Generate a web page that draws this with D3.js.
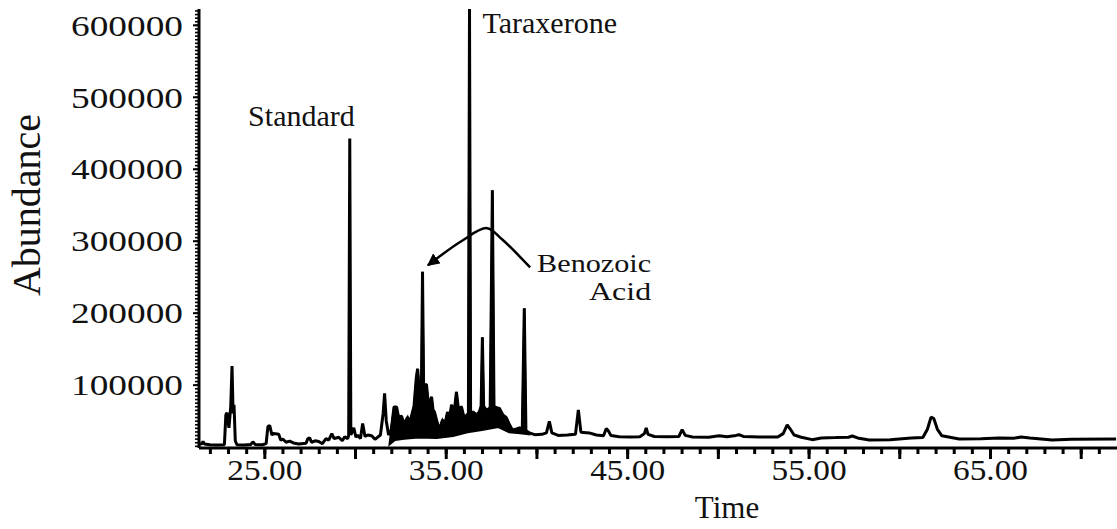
<!DOCTYPE html>
<html>
<head>
<meta charset="utf-8">
<script src="https://cdn.jsdelivr.net/npm/d3@7"></script>
<style>
    body { margin: 0; background: #fff; }
    text { font-family: "Liberation Serif", "Times New Roman", serif; fill: #111; }
</style>
</head>
<body>
<div id="chart"></div>
<script>

// Chromatogram: [time, abundance]
var trace = [
    [21.40, 17000], [21.55, 18000], [21.62, 21000], [21.70, 17500], [22.00, 16500], [22.40, 16200], [22.80, 16500],
    [22.88, 58000], [22.94, 61000], [23.05, 40000], [23.15, 70000], [23.22, 126000], [23.28, 60000], [23.33, 72000],
    [23.40, 22000], [23.49, 16500], [23.90, 16200], [24.25, 17000], [24.37, 20500], [24.50, 17000], [24.90, 16500],
    [25.10, 18000], [25.20, 42000], [25.30, 43000], [25.42, 30000], [25.50, 32000], [25.80, 31000], [25.90, 23000],
    [26.02, 24500], [26.20, 20000], [26.40, 21500], [26.60, 19000], [26.90, 17500], [27.30, 18500], [27.40, 25000],
    [27.50, 26000], [27.60, 20000], [27.80, 22000], [28.00, 21000], [28.20, 18000], [28.40, 25000], [28.55, 23000],
    [28.72, 32000], [28.85, 25000], [29.10, 27000], [29.30, 22000], [29.43, 27500], [29.60, 25000],
    [29.65, 30000], [29.71, 442000], [29.77, 30000],
    [29.93, 40000], [30.05, 27000], [30.15, 30000], [30.30, 25000], [30.42, 46000], [30.55, 28000], [30.70, 30000],
    [30.92, 29000], [31.10, 24000], [31.40, 30000], [31.55, 60000], [31.63, 88000], [31.72, 50000], [31.85, 30000],
    [32.00, 38000], [32.15, 69000], [32.29, 69000], [32.40, 55000], [32.57, 56000], [32.70, 45000], [32.90, 55000],
    [33.00, 45000], [33.12, 57000], [33.25, 70000], [33.38, 110000], [33.45, 122000], [33.55, 90000],
    [33.66, 95000], [33.72, 257000], [33.78, 100000],
    [33.94, 100000], [34.05, 70000], [34.22, 83000], [34.30, 65000], [34.38, 62000], [34.50, 50000], [34.66, 37000],
    [34.82, 51000], [34.95, 45000], [35.10, 62000], [35.20, 52000], [35.32, 72000], [35.45, 58000], [35.59, 90000],
    [35.70, 66000], [35.87, 69000], [36.00, 55000], [36.14, 57000], [36.25, 60000],
    [36.31, 622000], [36.37, 60000],
    [36.50, 62000], [36.69, 58000], [36.85, 62000], [36.95, 70000], [37.02, 166000], [37.09, 70000], [37.20, 66000],
    [37.30, 65000], [37.45, 68000], [37.57, 370000], [37.66, 70000], [37.80, 68000], [37.96, 67000], [38.15, 58000],
    [38.34, 54000], [38.50, 45000], [38.67, 37000], [38.85, 38000], [39.06, 40000], [39.22, 39000],
    [39.33, 206000], [39.42, 36000], [39.61, 33000],
    [39.90, 30500], [40.30, 31000], [40.55, 33000], [40.71, 49000], [40.85, 33000], [41.20, 29500], [41.70, 30000],
    [42.15, 31000], [42.31, 65000], [42.45, 34000], [42.91, 33000], [43.30, 30000], [43.70, 29000], [43.85, 39000],
    [43.96, 36000], [44.10, 29500], [44.56, 27500], [45.20, 27300], [45.70, 27500], [45.95, 32000], [46.05, 40000],
    [46.15, 31000], [46.50, 28000], [47.20, 27500], [47.85, 28000], [48.03, 37500], [48.20, 29500], [48.60, 27300],
    [49.50, 27000], [50.07, 29000], [50.50, 27500], [51.00, 29500], [51.17, 30500], [51.40, 28000], [52.30, 27300],
    [53.30, 27300], [53.60, 32000], [53.82, 44000], [54.00, 38000], [54.20, 30000], [54.60, 27000], [55.20, 23600],
    [55.70, 26000], [56.50, 26500], [57.20, 27000], [57.41, 28700], [57.70, 26000], [58.34, 23100], [59.50, 23500],
    [60.66, 25900], [61.30, 26500], [61.55, 38000], [61.75, 55000], [61.90, 53000], [62.10, 38000], [62.35, 29000],
    [63.30, 24500], [64.50, 24800], [65.50, 25900], [66.30, 25500], [66.72, 27300], [67.20, 26000], [68.43, 23000],
    [69.50, 24000], [71.95, 24500]
];

// lower edge of the dense unresolved band
var bandLow = [
    [31.90, 17000], [32.20, 23000], [32.70, 25000], [33.50, 26500], [34.50, 26000], [35.40, 28500],
    [36.20, 34000], [37.00, 37000], [37.90, 41000], [38.50, 34000], [39.10, 32500], [39.61, 31000]
];

var yLabels = [100000, 200000, 300000, 400000, 500000, 600000];
var xLabels = [25, 35, 45, 55, 65];
var xMidTicks = [30, 40, 50, 60, 70];

var notes = [
    {text: "Standard", t: 29.71, v: 442000, anchor: "end", dx: 5, dy: -13},
    {text: "Taraxerone", t: 36.31, v: 622000, anchor: "start", dx: 13, dy: 24}
];
var acidLabel = ["Benozoic", "Acid"];
var arrowPts = [[39.65, 263000], [38.10, 302000], [37.27, 317500], [35.90, 300000], [34.02, 266000]];

var margin = {top: 9, right: 0, bottom: 81, left: 199};
var width = 1117 - margin.left - margin.right,
    height = 529 - margin.top - margin.bottom;

var svg = d3.select("#chart").append("svg")
    .attr("width", 1117)
    .attr("height", 529);

var g = svg.append("g")
    .attr("transform", "translate(" + margin.left + "," + margin.top + ")");

var x = d3.scaleLinear().domain([21.4, 72]).range([0, width]);
var y = d3.scaleLinear().domain([12000, 622000]).range([height, 0]);

var line = d3.line()
    .x(function(d) { return x(d[0]); })
    .y(function(d) { return y(d[1]); });

// filled band: top of trace across the band, back along its lower edge
var band = trace.filter(function(d) { return d[0] >= 31.9 && d[0] <= 39.61; })
    .concat(bandLow.slice().reverse());

g.append("path")
    .attr("d", line(band) + "Z")
    .attr("fill", "#000")
    .attr("stroke", "#000")
    .attr("stroke-width", 2);

g.append("path")
    .datum(trace)
    .attr("d", line)
    .attr("fill", "none")
    .attr("stroke", "#000")
    .attr("stroke-width", 3)
    .attr("stroke-linejoin", "bevel");

// x axis
var xMinor = [];
for (var t = 22; t <= 71; t++) xMinor.push(t);

g.append("g")
    .attr("transform", "translate(0," + height + ")")
    .call(d3.axisBottom(x).tickValues(xMinor).tickSize(6).tickSizeOuter(0).tickFormat(""))
    .call(function(a) {
        a.select(".domain").attr("stroke-width", 3).attr("d", "M0,0H" + width);
        a.selectAll(".tick line").attr("stroke-width", 3);
    });

g.append("g")
    .attr("transform", "translate(0," + height + ")")
    .call(d3.axisBottom(x).tickValues(xLabels.concat(xMidTicks)).tickSize(11).tickSizeOuter(0)
        .tickFormat(function(d) { return xLabels.indexOf(d) >= 0 ? d.toFixed(2) : ""; }))
    .call(function(a) {
        a.select(".domain").remove();
        a.selectAll(".tick line").attr("stroke-width", 3);
        a.selectAll(".tick text")
            .attr("y", 32)
            .attr("dy", 0)
            .style("font-size", "30px")
            .attr("textLength", function(d) { return xLabels.indexOf(d) >= 0 ? 75 : null; })
            .attr("lengthAdjust", "spacingAndGlyphs")
            .attr("fill", "#111");
    });

// y axis
var yMinor = [];
for (var v = 15000; v <= 620000; v += 5000) yMinor.push(v);

g.append("g")
    .call(d3.axisLeft(y).tickValues(yMinor).tickSize(4).tickSizeOuter(0).tickFormat(""))
    .call(function(a) {
        a.select(".domain").attr("stroke-width", 3).attr("d", "M0," + height + "V0");
        a.selectAll(".tick line").attr("stroke-width", 1.6);
    });

g.append("g")
    .call(d3.axisLeft(y).tickValues(yLabels).tickSize(6).tickSizeOuter(0).tickFormat(d3.format("d")))
    .call(function(a) {
        a.select(".domain").remove();
        a.selectAll(".tick line").attr("stroke-width", 2);
        a.selectAll(".tick text")
            .attr("x", -16)
            .attr("dy", "0.34em")
            .style("font-size", "30px")
            .attr("textLength", 112)
            .attr("lengthAdjust", "spacingAndGlyphs")
            .attr("fill", "#111");
    });

// axis titles
svg.append("text")
    .text("Time")
    .attr("x", 727)
    .attr("y", 518)
    .attr("text-anchor", "middle")
    .style("font-size", "31px");

svg.append("text")
    .text("Abundance")
    .attr("transform", "translate(40,205) rotate(-90)")
    .attr("text-anchor", "middle")
    .style("font-size", "40px");

// peak labels
g.selectAll("text.note")
    .data(notes)
    .enter().append("text")
    .attr("class", "note")
    .attr("x", function(d) { return x(d.t) + d.dx; })
    .attr("y", function(d) { return y(d.v) + d.dy; })
    .attr("text-anchor", function(d) { return d.anchor; })
    .style("font-size", "30px")
    .text(function(d) { return d.text; });

g.selectAll("text.acid")
    .data(acidLabel)
    .enter().append("text")
    .attr("class", "acid")
    .attr("x", x(arrowPts[0][0]) + 121)
    .attr("y", function(d, i) { return y(arrowPts[0][1]) + 5 + i * 28; })
    .attr("text-anchor", "end")
    .style("font-size", "26px")
    .attr("textLength", function(d, i) { return i === 0 ? 114 : 62; })
    .attr("lengthAdjust", "spacingAndGlyphs")
    .text(function(d) { return d; });

svg.append("defs").append("marker")
    .attr("id", "head")
    .attr("viewBox", "0 0 10 10")
    .attr("refX", 9)
    .attr("refY", 5)
    .attr("markerWidth", 5)
    .attr("markerHeight", 5)
    .attr("markerUnits", "strokeWidth")
    .attr("orient", "auto")
    .append("path")
    .attr("d", "M0,0L10,5L0,10Z")
    .attr("fill", "#000");

g.append("path")
    .datum(arrowPts)
    .attr("d", d3.line()
        .x(function(d) { return x(d[0]); })
        .y(function(d) { return y(d[1]); })
        .curve(d3.curveCatmullRom))
    .attr("fill", "none")
    .attr("stroke", "#000")
    .attr("stroke-width", 2.5)
    .attr("marker-end", "url(#head)");

</script>
</body>
</html>
